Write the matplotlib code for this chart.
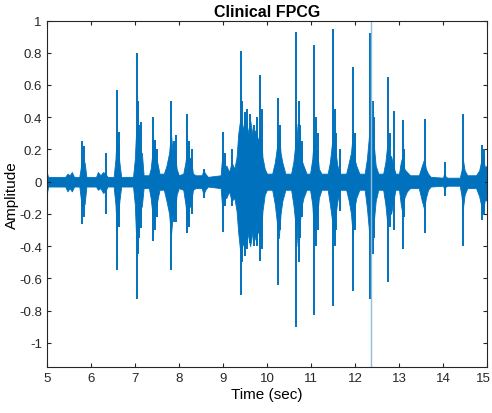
import matplotlib
matplotlib.use("Agg")
import matplotlib.pyplot as plt
import matplotlib.transforms as mtransforms

plt.rcParams['font.family'] = ['Liberation Sans', 'DejaVu Sans']

# dense body of the signal (envelope): time, upper, lower
env_t = [5.00, 5.03, 5.30, 5.42, 5.47, 5.52, 5.57, 5.62, 5.74, 5.78,
         5.80, 5.83, 5.86, 5.90, 6.12, 6.16, 6.22, 6.28, 6.33, 6.38,
         6.52, 6.56, 6.59, 6.62, 6.65, 6.69, 6.96, 7.00, 7.03, 7.06,
         7.09, 7.12, 7.16, 7.20, 7.32, 7.36, 7.40, 7.43, 7.47, 7.51,
         7.56, 7.66, 7.72, 7.78, 7.82, 7.86, 7.90, 7.95, 8.00, 8.10,
         8.15, 8.19, 8.23, 8.27, 8.32, 8.38, 8.52, 8.56, 8.60, 8.66,
         8.95, 8.99, 9.03, 9.08, 9.14, 9.20, 9.26, 9.31, 9.35, 9.40,
         9.45, 9.50, 9.56, 9.62, 9.68, 9.74, 9.80, 9.85, 9.90, 9.95,
         10.00, 10.12, 10.18, 10.23, 10.27, 10.31, 10.35, 10.42, 10.55, 10.60,
         10.64, 10.67, 10.70, 10.74, 10.78, 10.83, 10.90, 10.98, 11.03, 11.07,
         11.10, 11.14, 11.18, 11.24, 11.38, 11.43, 11.47, 11.51, 11.55, 11.60,
         11.66, 11.80, 11.86, 11.91, 11.95, 11.99, 12.03, 12.10, 12.22, 12.27,
         12.31, 12.35, 12.39, 12.43, 12.47, 12.53, 12.64, 12.69, 12.73, 12.77,
         12.82, 12.87, 12.92, 13.00, 13.04, 13.08, 13.12, 13.18, 13.25, 13.45,
         13.52, 13.57, 13.61, 13.66, 13.72, 14.00, 14.03, 14.06, 14.10, 14.38,
         14.42, 14.45, 14.49, 14.55, 14.75, 14.82, 14.86, 14.90, 14.95, 15.00]
env_hi = [0.06, 0.03, 0.03, 0.03, 0.05, 0.04, 0.06, 0.03, 0.03, 0.10,
          0.15, 0.10, 0.12, 0.03, 0.03, 0.06, 0.04, 0.06, 0.05, 0.03,
          0.03, 0.14, 0.30, 0.20, 0.12, 0.03, 0.03, 0.14, 0.32, 0.25,
          0.30, 0.15, 0.18, 0.04, 0.04, 0.08, 0.18, 0.25, 0.14, 0.12,
          0.05, 0.05, 0.10, 0.18, 0.30, 0.18, 0.20, 0.08, 0.04, 0.05,
          0.12, 0.22, 0.14, 0.15, 0.05, 0.04, 0.04, 0.07, 0.05, 0.03,
          0.04, 0.18, 0.08, 0.10, 0.06, 0.12, 0.08, 0.15, 0.30, 0.40,
          0.32, 0.40, 0.30, 0.38, 0.28, 0.32, 0.25, 0.35, 0.15, 0.08,
          0.05, 0.05, 0.12, 0.22, 0.32, 0.18, 0.12, 0.05, 0.05, 0.12,
          0.22, 0.36, 0.24, 0.28, 0.14, 0.10, 0.05, 0.05, 0.14, 0.30,
          0.18, 0.20, 0.08, 0.05, 0.05, 0.12, 0.22, 0.32, 0.20, 0.10,
          0.05, 0.05, 0.12, 0.18, 0.30, 0.14, 0.10, 0.05, 0.05, 0.14,
          0.26, 0.40, 0.28, 0.22, 0.10, 0.05, 0.05, 0.12, 0.22, 0.14,
          0.16, 0.10, 0.05, 0.05, 0.12, 0.16, 0.08, 0.06, 0.04, 0.04,
          0.10, 0.14, 0.08, 0.05, 0.03, 0.025, 0.06, 0.03, 0.025, 0.025,
          0.07, 0.14, 0.07, 0.04, 0.04, 0.07, 0.12, 0.16, 0.09, 0.10]
env_lo = [-0.08, -0.03, -0.03, -0.03, -0.06, -0.04, -0.06, -0.03, -0.03, -0.12,
          -0.18, -0.12, -0.14, -0.03, -0.03, -0.05, -0.04, -0.07, -0.06, -0.03,
          -0.03, -0.14, -0.30, -0.22, -0.12, -0.03, -0.03, -0.14, -0.35, -0.28,
          -0.32, -0.18, -0.15, -0.04, -0.04, -0.10, -0.20, -0.28, -0.16, -0.12,
          -0.05, -0.05, -0.12, -0.20, -0.34, -0.20, -0.22, -0.08, -0.04, -0.05,
          -0.14, -0.25, -0.16, -0.15, -0.05, -0.04, -0.04, -0.08, -0.05, -0.03,
          -0.04, -0.18, -0.10, -0.10, -0.06, -0.12, -0.10, -0.18, -0.32, -0.45,
          -0.38, -0.42, -0.32, -0.40, -0.30, -0.36, -0.30, -0.38, -0.18, -0.08,
          -0.05, -0.05, -0.14, -0.26, -0.35, -0.20, -0.12, -0.05, -0.05, -0.14,
          -0.24, -0.40, -0.25, -0.28, -0.16, -0.10, -0.05, -0.05, -0.14, -0.32,
          -0.20, -0.22, -0.10, -0.05, -0.05, -0.14, -0.22, -0.32, -0.22, -0.12,
          -0.05, -0.05, -0.12, -0.20, -0.34, -0.16, -0.10, -0.05, -0.05, -0.16,
          -0.28, -0.42, -0.30, -0.24, -0.12, -0.05, -0.05, -0.14, -0.25, -0.16,
          -0.20, -0.12, -0.05, -0.05, -0.14, -0.20, -0.10, -0.06, -0.04, -0.04,
          -0.12, -0.17, -0.10, -0.05, -0.03, -0.025, -0.05, -0.03, -0.025, -0.025,
          -0.09, -0.17, -0.08, -0.04, -0.04, -0.09, -0.14, -0.20, -0.11, -0.12]

# single sharp spikes: time, max, min
spike_t = [5.00, 5.80, 5.84, 6.35, 6.59, 6.63, 7.04, 7.07, 7.10, 7.15,
           7.42, 7.46, 7.50, 7.83, 7.88, 7.93, 8.18, 8.23, 8.30, 8.56,
           9.00, 9.05, 9.20, 9.41, 9.44, 9.50, 9.55, 9.62, 9.70, 9.78,
           9.85, 9.88, 10.26, 10.30, 10.67, 10.72, 10.76, 10.80, 11.07, 11.12,
           11.16, 11.51, 11.55, 11.58, 11.65, 11.95, 11.99, 12.35, 12.40, 12.44,
           12.74, 12.80, 12.88, 13.08, 13.12, 13.60, 14.05, 14.45, 14.89, 14.93]
spike_hi = [0.08, 0.25, 0.22, 0.18, 0.57, 0.31, 0.80, 0.50, 0.35, 0.37,
            0.40, 0.26, 0.20, 0.50, 0.25, 0.29, 0.42, 0.25, 0.20, 0.08,
            0.31, 0.18, 0.20, 0.81, 0.50, 0.43, 0.45, 0.42, 0.35, 0.40,
            0.66, 0.45, 0.52, 0.35, 0.93, 0.50, 0.35, 0.25, 0.85, 0.40,
            0.30, 0.95, 0.45, 0.30, 0.20, 0.71, 0.30, 0.92, 0.50, 0.40,
            0.65, 0.30, 0.44, 0.38, 0.20, 0.39, 0.12, 0.42, 0.23, 0.20]
spike_lo = [-0.09, -0.26, -0.22, -0.20, -0.55, -0.28, -0.73, -0.45, -0.35, -0.29,
            -0.37, -0.30, -0.22, -0.55, -0.25, -0.25, -0.32, -0.28, -0.20, -0.10,
            -0.31, -0.15, -0.15, -0.70, -0.50, -0.46, -0.42, -0.38, -0.40, -0.40,
            -0.49, -0.42, -0.64, -0.30, -0.90, -0.50, -0.35, -0.22, -0.83, -0.40,
            -0.30, -0.77, -0.40, -0.30, -0.18, -0.68, -0.30, -0.73, -0.45, -0.35,
            -0.62, -0.28, -0.30, -0.42, -0.22, -0.32, -0.09, -0.40, -0.24, -0.20]

# one clipped sample that runs off both ends of the axes
clip_t = [12.37]
clip_hi = [1.3]
clip_lo = [-1.3]

blue = '#0072BD'

fig = plt.figure(figsize=(4.92, 4.14), dpi=100)
ax = fig.add_axes([0.095, 0.111, 0.895, 0.837])

ax.fill_between(env_t, env_lo, env_hi, color=blue, lw=0.6, edgecolor=blue)
ax.vlines(spike_t, spike_lo, spike_hi, color=blue, lw=1.4)
ax.vlines(clip_t, clip_lo, clip_hi, color='#8fbde0', lw=1.0)

ax.set_xlim(5, 15)
ax.set_ylim(-1.15, 1)
ax.set_xticks(range(5, 16))
ax.set_yticks([-1, -0.8, -0.6, -0.4, -0.2, 0, 0.2, 0.4, 0.6, 0.8, 1])
ax.set_yticklabels(['-1', '-0.8', '-0.6', '-0.4', '-0.2', '0', '0.2', '0.4', '0.6', '0.8', '1'])
ax.tick_params(direction='in', top=True, right=True, labelsize=9.5, length=3,
               color='#262626', labelcolor='#262626')
for s in ax.spines.values():
    s.set_color('#262626')
    s.set_linewidth(0.8)

# keep the last x label inside the canvas
last = ax.get_xticklabels()[-1]
last.set_transform(last.get_transform() + mtransforms.ScaledTranslation(-4 / 100, 0, fig.dpi_scale_trans))

ax.set_title('Clinical FPCG', fontsize=11.5, fontweight='bold', pad=3)
ax.set_xlabel('Time (sec)', fontsize=11, labelpad=2)
ax.set_ylabel('Amplitude', fontsize=11, labelpad=0)

fig.savefig('out.png', dpi=100)
